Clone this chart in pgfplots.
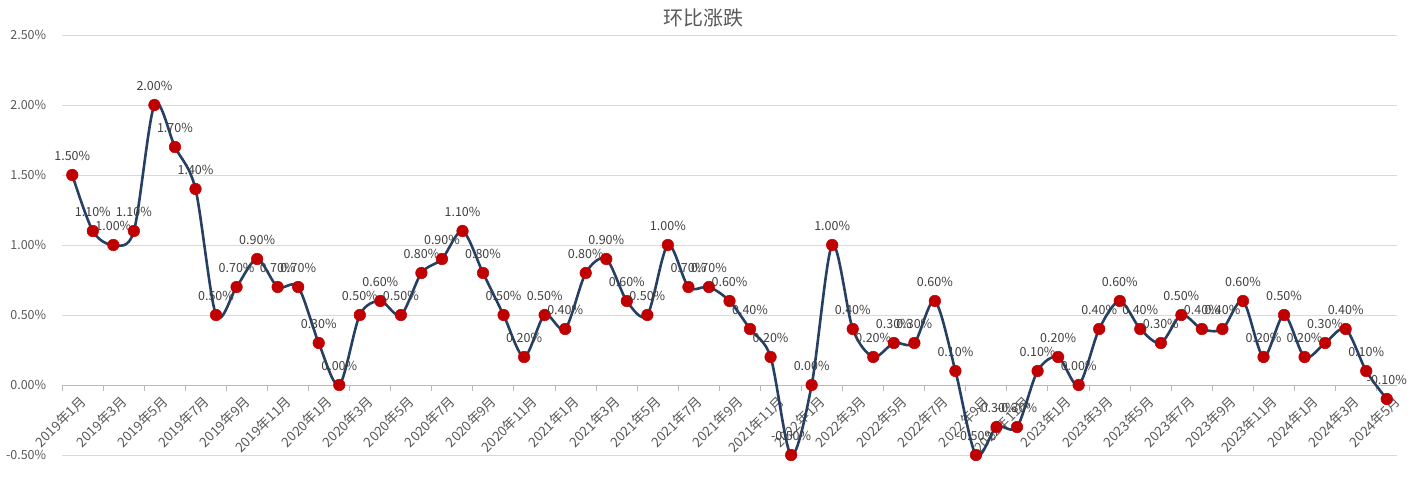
\documentclass[border=0pt]{standalone}
\usepackage{pgfplots}
\pgfplotsset{compat=1.18}
\usepackage{fontspec}
\setmainfont{Noto Sans CJK SC}
\definecolor{linecol}{RGB}{38,64,100}
\definecolor{markcol}{RGB}{192,0,0}
\definecolor{txtgray}{RGB}{89,89,89}
\definecolor{lblgray}{RGB}{64,64,64}
\definecolor{gridgray}{RGB}{217,217,217}

\begin{document}
\begin{tikzpicture}[x=1pt,y=1pt]
\useasboundingbox[fill=white] (0,0) rectangle (1412,497);
\node[text=txtgray, font=\fontsize{20}{21}\selectfont] at (703,479) {环比涨跌};
\begin{axis}[
    at={(62pt,42pt)}, anchor=south west,
    scale only axis,
    width=1335pt, height=420pt,
    xmin=-0.5, xmax=64.5,
    ymin=-0.5, ymax=2.5,
    axis x line=middle,
    axis y line*=left,
    y axis line style={draw=none},
    x axis line style={-, draw=gray!55, line width=0.8pt},
    ytick={-0.5,0,0.5,1,1.5,2,2.5},
    ymajorgrids,
    grid style={gridgray, line width=0.8pt},
    ytick style={draw=none},
    xtick={0,2,...,64},
    minor xtick={-0.5,1.5,...,63.5},
    major x tick style={draw=none},
    minor x tick style={draw=gray!55, line width=0.8pt},
    minor tick length=6pt,
    tick align=outside,
    xticklabels={2019年1月,2019年3月,2019年5月,2019年7月,2019年9月,2019年11月,
      2020年1月,2020年3月,2020年5月,2020年7月,2020年9月,2020年11月,
      2021年1月,2021年3月,2021年5月,2021年7月,2021年9月,2021年11月,
      2022年1月,2022年3月,2022年5月,2022年7月,2022年9月,2022年11月,
      2023年1月,2023年3月,2023年5月,2023年7月,2023年9月,2023年11月,
      2024年1月,2024年3月,2024年5月},
    xticklabel style={rotate=45, anchor=north east, text=txtgray,
      font=\fontsize{13.5}{14}\selectfont, inner sep=1pt, xshift=2pt, yshift=-7pt},
    yticklabel={\pgfmathprintnumber{\tick}\%},
    yticklabel style={text=txtgray, font=\fontsize{12.5}{13}\selectfont, xshift=-8pt},
    /pgf/number format/.cd, fixed, fixed zerofill, precision=2, assume math mode=true,
    /pgfplots/.cd,
    clip=false,
]
\addplot[linecol, line width=2.6pt, smooth, tension=0.5,
    mark=*, mark size=5.8pt, mark options={fill=markcol, draw=markcol, line width=0.5pt},
    nodes near coords={\pgfmathprintnumber{\pgfplotspointmeta}\%},
    every node near coord/.append style={text=lblgray, anchor=center, yshift=19pt,
      font=\fontsize{12.5}{13}\selectfont},
] coordinates {
    (0,1.5) (1,1.1) (2,1.0) (3,1.1) (4,2.0) (5,1.7) (6,1.4) (7,0.5) (8,0.7) (9,0.9) (10,0.7) (11,0.7)
    (12,0.3) (13,0.0) (14,0.5) (15,0.6) (16,0.5) (17,0.8) (18,0.9) (19,1.1) (20,0.8) (21,0.5) (22,0.2) (23,0.5)
    (24,0.4) (25,0.8) (26,0.9) (27,0.6) (28,0.5) (29,1.0) (30,0.7) (31,0.7) (32,0.6) (33,0.4) (34,0.2) (35,-0.5)
    (36,0.0) (37,1.0) (38,0.4) (39,0.2) (40,0.3) (41,0.3) (42,0.6) (43,0.1) (44,-0.5) (45,-0.3) (46,-0.3) (47,0.1)
    (48,0.2) (49,0.0) (50,0.4) (51,0.6) (52,0.4) (53,0.3) (54,0.5) (55,0.4) (56,0.4) (57,0.6) (58,0.2) (59,0.5)
    (60,0.2) (61,0.3) (62,0.4) (63,0.1) (64,-0.1)
};
\end{axis}
\end{tikzpicture}
\end{document}
